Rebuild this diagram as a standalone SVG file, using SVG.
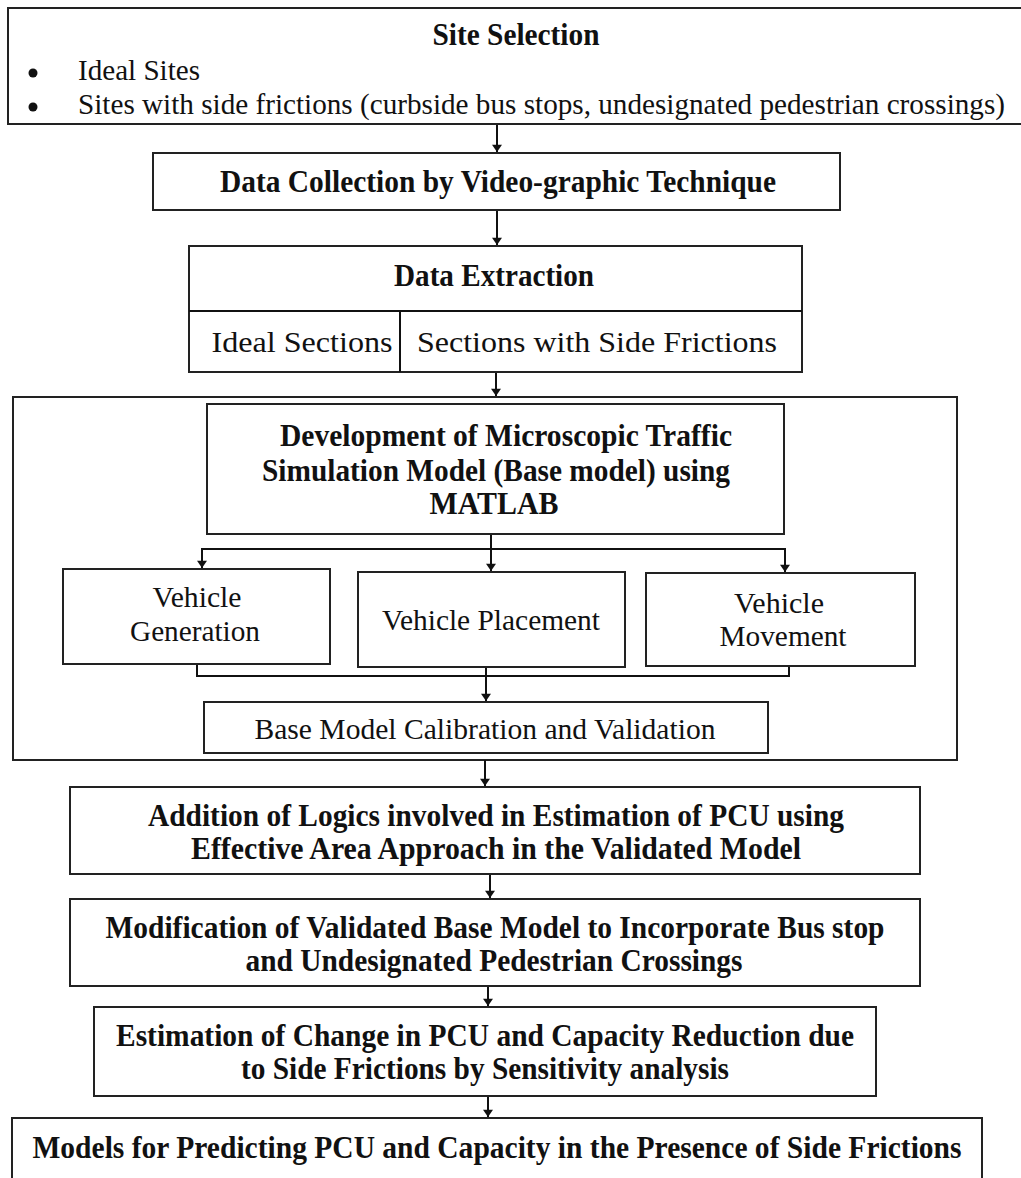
<svg xmlns="http://www.w3.org/2000/svg" width="1021" height="1178" viewBox="0 0 1021 1178">
<style>
.box{fill:#fff;stroke:#222;stroke-width:2}
.frame{fill:none;stroke:#222;stroke-width:2}
.ln{fill:none;stroke:#111;stroke-width:2}
.arr{fill:none;stroke:#111;stroke-width:2;marker-end:url(#ah)}
.c{text-anchor:middle}
</style>
<defs>
<marker id="ah" viewBox="0 0 10 14" refX="10" refY="7" markerWidth="14" markerHeight="10" markerUnits="userSpaceOnUse" orient="auto">
<path d="M0,0 L10,7 L0,14 z" fill="#111"/>
</marker>
</defs>
<rect width="1021" height="1178" fill="#fff"/>

<g id="model-development-group">
<rect class="frame" x="13" y="397" width="944" height="363"/>
</g>

<g id="connectors">
<line class="arr" x1="497" y1="124" x2="497" y2="152"/>
<line class="arr" x1="497" y1="210" x2="497" y2="245"/>
<line class="arr" x1="496" y1="372" x2="496" y2="396"/>
<line class="arr" x1="491" y1="534" x2="491" y2="571"/>
<line class="ln" x1="202" y1="549" x2="785" y2="549"/>
<line class="arr" x1="202" y1="548" x2="202" y2="568"/>
<line class="arr" x1="785" y1="548" x2="785" y2="572"/>
<path class="ln" d="M197,664 V676 H789 V666"/>
<line class="arr" x1="486" y1="667" x2="486" y2="701"/>
<line class="arr" x1="485" y1="760" x2="485" y2="786"/>
<line class="arr" x1="490" y1="874" x2="490" y2="898"/>
<line class="arr" x1="488" y1="986" x2="488" y2="1006"/>
<line class="arr" x1="488" y1="1096" x2="488" y2="1117"/>
</g>

<g font-family="Liberation Serif, Times New Roman, serif" fill="#111">

<g id="site-selection">
<rect class="box" x="8" y="8" width="1030" height="116"/>
<text class="c" font-weight="bold" font-size="31" x="516" y="45" textLength="167" lengthAdjust="spacingAndGlyphs">Site Selection</text>
<circle cx="33" cy="73" r="4.5" fill="#111"/>
<text font-size="30" x="78" y="80" textLength="122" lengthAdjust="spacingAndGlyphs">Ideal Sites</text>
<circle cx="33" cy="107" r="4.5" fill="#111"/>
<text font-size="30" x="78" y="114" textLength="927" lengthAdjust="spacingAndGlyphs">Sites with side frictions (curbside bus stops, undesignated pedestrian crossings)</text>
</g>

<g id="data-collection">
<rect class="box" x="153" y="153" width="687" height="57"/>
<text class="c" font-weight="bold" font-size="31" x="498" y="192" textLength="556" lengthAdjust="spacingAndGlyphs">Data Collection by Video-graphic Technique</text>
</g>

<g id="data-extraction">
<rect class="box" x="189" y="246" width="613" height="126"/>
<line class="ln" x1="189" y1="311" x2="802" y2="311"/>
<line class="ln" x1="400" y1="311" x2="400" y2="372"/>
<text class="c" font-weight="bold" font-size="31" x="494" y="286" textLength="200" lengthAdjust="spacingAndGlyphs">Data Extraction</text>
<text class="c" font-size="30" x="302" y="352" textLength="181" lengthAdjust="spacingAndGlyphs">Ideal Sections</text>
<text class="c" font-size="30" x="597" y="352" textLength="360" lengthAdjust="spacingAndGlyphs">Sections with Side Frictions</text>
</g>

<g id="development">
<rect class="box" x="207" y="404" width="577" height="130"/>
<text class="c" font-weight="bold" font-size="31" x="506" y="446" textLength="452" lengthAdjust="spacingAndGlyphs">Development of Microscopic Traffic</text>
<text class="c" font-weight="bold" font-size="31" x="496" y="481" textLength="468" lengthAdjust="spacingAndGlyphs">Simulation Model (Base model) using</text>
<text class="c" font-weight="bold" font-size="31" x="494" y="514" textLength="129" lengthAdjust="spacingAndGlyphs">MATLAB</text>
</g>

<g id="vehicle-generation">
<rect class="box" x="63" y="569" width="267" height="95"/>
<text class="c" font-size="30" x="197" y="607" textLength="89" lengthAdjust="spacingAndGlyphs">Vehicle</text>
<text class="c" font-size="30" x="195" y="641" textLength="130" lengthAdjust="spacingAndGlyphs">Generation</text>
</g>

<g id="vehicle-placement">
<rect class="box" x="358" y="572" width="267" height="95"/>
<text class="c" font-size="30" x="491" y="630" textLength="218" lengthAdjust="spacingAndGlyphs">Vehicle Placement</text>
</g>

<g id="vehicle-movement">
<rect class="box" x="646" y="573" width="269" height="93"/>
<text class="c" font-size="30" x="779" y="613" textLength="90" lengthAdjust="spacingAndGlyphs">Vehicle</text>
<text class="c" font-size="30" x="783" y="646" textLength="127" lengthAdjust="spacingAndGlyphs">Movement</text>
</g>

<g id="calibration">
<rect class="box" x="204" y="702" width="564" height="51"/>
<text class="c" font-size="30" x="485" y="739" textLength="461" lengthAdjust="spacingAndGlyphs">Base Model Calibration and Validation</text>
</g>

<g id="addition-logics">
<rect class="box" x="70" y="787" width="850" height="87"/>
<text class="c" font-weight="bold" font-size="31" x="496" y="826" textLength="696" lengthAdjust="spacingAndGlyphs">Addition of Logics involved in Estimation of PCU using</text>
<text class="c" font-weight="bold" font-size="31" x="496" y="859" textLength="610" lengthAdjust="spacingAndGlyphs">Effective Area Approach in the Validated Model</text>
</g>

<g id="modification">
<rect class="box" x="70" y="899" width="850" height="87"/>
<text class="c" font-weight="bold" font-size="31" x="495" y="938" textLength="779" lengthAdjust="spacingAndGlyphs">Modification of Validated Base Model to Incorporate Bus stop</text>
<text class="c" font-weight="bold" font-size="31" x="494" y="971" textLength="497" lengthAdjust="spacingAndGlyphs">and Undesignated Pedestrian Crossings</text>
</g>

<g id="estimation">
<rect class="box" x="94" y="1007" width="782" height="89"/>
<text class="c" font-weight="bold" font-size="31" x="485" y="1046" textLength="738" lengthAdjust="spacingAndGlyphs">Estimation of Change in PCU and Capacity Reduction due</text>
<text class="c" font-weight="bold" font-size="31" x="485" y="1079" textLength="488" lengthAdjust="spacingAndGlyphs">to Side Frictions by Sensitivity analysis</text>
</g>

<g id="models">
<rect class="box" x="12" y="1118" width="970" height="80"/>
<text class="c" font-weight="bold" font-size="31" x="497" y="1158" textLength="929" lengthAdjust="spacingAndGlyphs">Models for Predicting PCU and Capacity in the Presence of Side Frictions</text>
</g>

</g>
</svg>
